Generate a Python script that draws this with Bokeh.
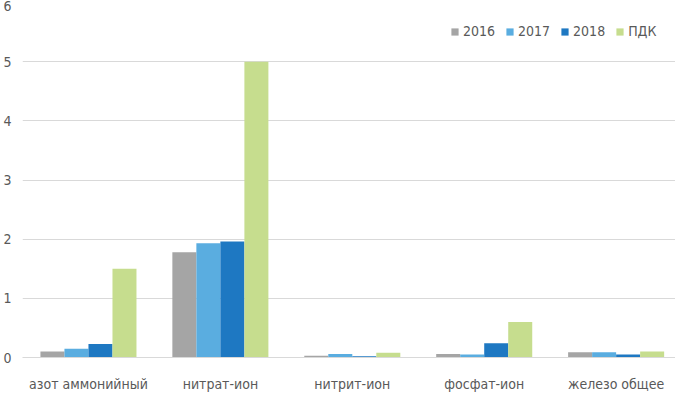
import numpy as np
from bokeh.plotting import figure
from bokeh.models import ColumnDataSource, Range1d, FixedTicker, Legend, LegendItem
from bokeh.embed import file_html
from bokeh.resources import INLINE

categories = ["азот аммонийный", "нитрат-ион", "нитрит-ион", "фосфат-ион", "железо общее"]
series_names = ["2016", "2017", "2018", "ПДК"]
values_2016 = [0.10, 1.78, 0.03, 0.06, 0.09]
values_2017 = [0.15, 1.93, 0.06, 0.05, 0.09]
values_2018 = [0.23, 1.96, 0.02, 0.24, 0.05]
values_pdk = [1.5, 5.0, 0.08, 0.6, 0.1]
y_ticks = [0, 1, 2, 3, 4, 5, 6]

colors = ["#A5A5A5", "#5AADE0", "#1E78C2", "#C6DD8E"]
offsets = [-0.273, -0.091, 0.091, 0.273]
bar_w = 0.182
FONT = "'Liberation Sans Narrow', 'DejaVu Sans Condensed', 'Liberation Sans', sans-serif"

p = figure(width=675, height=394, output_backend="svg", toolbar_location=None,
           x_range=Range1d(0, 4.95), y_range=Range1d(0, 6),
           min_border_left=22, min_border_right=0, min_border_top=2, min_border_bottom=36)
p.outline_line_color = None
p.background_fill_color = "white"
p.border_fill_color = "white"

centers = np.arange(len(categories)) + 0.5
items = []
for name, vals, col, off in zip(series_names,
                                [values_2016, values_2017, values_2018, values_pdk],
                                colors, offsets):
    src = ColumnDataSource(dict(x=centers + off, top=vals))
    r = p.vbar(x="x", top="top", width=bar_w, bottom=0, source=src,
               fill_color=col, line_color=None)
    items.append(LegendItem(label=name, renderers=[r]))

# axes
p.xaxis.ticker = FixedTicker(ticks=list(centers))
p.xaxis.major_label_overrides = {float(c): lab for c, lab in zip(centers, categories)}
p.xaxis.axis_line_color = "#D9D9D9"
p.xaxis.major_tick_line_color = None
p.xaxis.minor_tick_line_color = None
p.xaxis.major_label_text_font = FONT
p.xaxis.major_label_text_font_size = "14px"
p.xaxis.major_label_text_color = "#595959"
p.xaxis.major_label_standoff = 12

p.yaxis.ticker = FixedTicker(ticks=y_ticks)
p.yaxis.axis_line_color = None
p.yaxis.major_tick_line_color = None
p.yaxis.minor_tick_line_color = None
p.yaxis.major_label_text_font = FONT
p.yaxis.major_label_text_font_size = "14px"
p.yaxis.major_label_text_color = "#595959"
p.yaxis.major_label_standoff = 5

p.xgrid.grid_line_color = None
p.ygrid.grid_line_color = "#D9D9D9"
p.ygrid.grid_line_width = 1

legend = Legend(items=items, orientation="horizontal", location=(428, 318),
                border_line_color=None, background_fill_alpha=0,
                label_text_font=FONT, label_text_font_size="14px",
                label_text_color="#595959", glyph_width=9, glyph_height=9,
                spacing=10, label_standoff=4, padding=0, margin=0)
p.add_layout(legend)

open("out.html", "w").write(file_html(p, INLINE))
